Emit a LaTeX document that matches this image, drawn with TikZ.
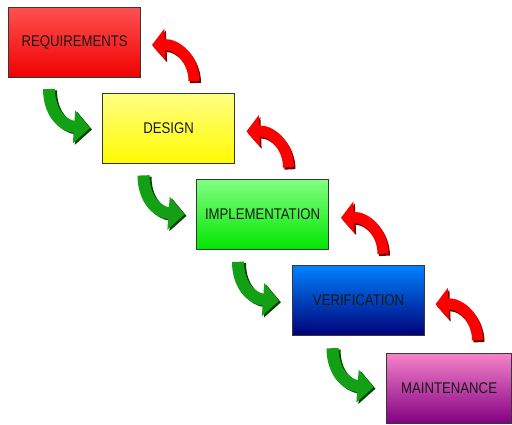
\documentclass[tikz,border=0pt]{standalone}
\usepackage{fontspec}
\newfontfamily\boxfont[FakeStretch=0.85]{Liberation Sans}
\usetikzlibrary{arrows.meta}
\definecolor{reqtop}{RGB}{255,80,80}
\definecolor{reqbot}{RGB}{240,0,0}
\definecolor{destop}{RGB}{255,255,130}
\definecolor{desbot}{RGB}{255,250,0}
\definecolor{imptop}{RGB}{130,255,130}
\definecolor{impbot}{RGB}{0,230,0}
\definecolor{vertop}{RGB}{0,130,255}
\definecolor{verbot}{RGB}{0,0,120}
\definecolor{maitop}{RGB}{245,130,200}
\definecolor{maibot}{RGB}{130,0,130}
\definecolor{boxline}{RGB}{55,55,55}
\definecolor{garrow}{RGB}{20,160,20}
\definecolor{gshadow}{RGB}{0,70,0}
\definecolor{rarrow}{RGB}{255,0,0}
\definecolor{rshadow}{RGB}{110,0,0}
\begin{document}
\begin{tikzpicture}[x=1pt,y=-1pt,
  phase/.style={draw=boxline, line width=1.2pt, minimum width=132pt,
    minimum height=70pt, anchor=north west, inner sep=0pt,
    shading=axis, shading angle=0,
    font=\boxfont\fontsize{15.5}{18}\selectfont, text=black!90},
  greenarrow/.style={draw=garrow, line width=12pt,
    -{Triangle[length=16pt,width=32pt]}},
  greenshadow/.style={draw=gshadow, line width=12pt,
    -{Triangle[length=16pt,width=32pt]}},
  redarrow/.style={draw=rarrow, line width=11pt,
    -{Triangle[length=13pt,width=31pt]}},
  redshadow/.style={draw=rshadow, line width=11pt,
    -{Triangle[length=13pt,width=31pt]}}]
\useasboundingbox (0,0) rectangle (512,425);
\fill[white] (0,0) rectangle (512,425);

\node[phase, top color=reqtop, bottom color=reqbot] (req) at (8,7) {REQUIREMENTS};
\node[phase, top color=destop, bottom color=desbot] (des) at (102,93) {DESIGN};
\node[phase, top color=imptop, bottom color=impbot] (imp) at (196,179) {IMPLEMENTATION};
\node[phase, top color=vertop, bottom color=verbot] (ver) at (292,265) {VERIFICATION};
\node[phase, top color=maitop, bottom color=maibot, minimum width=125pt] (mai) at (386,353) {MAINTENANCE};

\foreach \i in {0,1,2,3} {
  \begin{scope}[shift={(94.5*\i,86.4*\i)}]
    \coordinate (gs\i) at (49,89);
    \coordinate (ge\i) at (90,128);
    \coordinate (rs\i) at (194,81);
    \coordinate (re\i) at (152,45);
    % green (forward) arrow
    \draw[greenshadow] ([shift={(2,1.5)}]gs\i) .. controls (51,113.5) and (64,127.5) .. ([shift={(2,1.5)}]ge\i);
    \draw[greenarrow] (gs\i) .. controls (49,112) and (62,126) .. (ge\i);
    % red (backward) arrow
    \draw[redshadow] ([shift={(1.5,2)}]rs\i) .. controls (195.5,62) and (179.5,46) .. ([shift={(1.5,2)}]re\i);
    \draw[redarrow] (rs\i) .. controls (194,60) and (178,44) .. (re\i);
  \end{scope}
}
\end{tikzpicture}
\end{document}
